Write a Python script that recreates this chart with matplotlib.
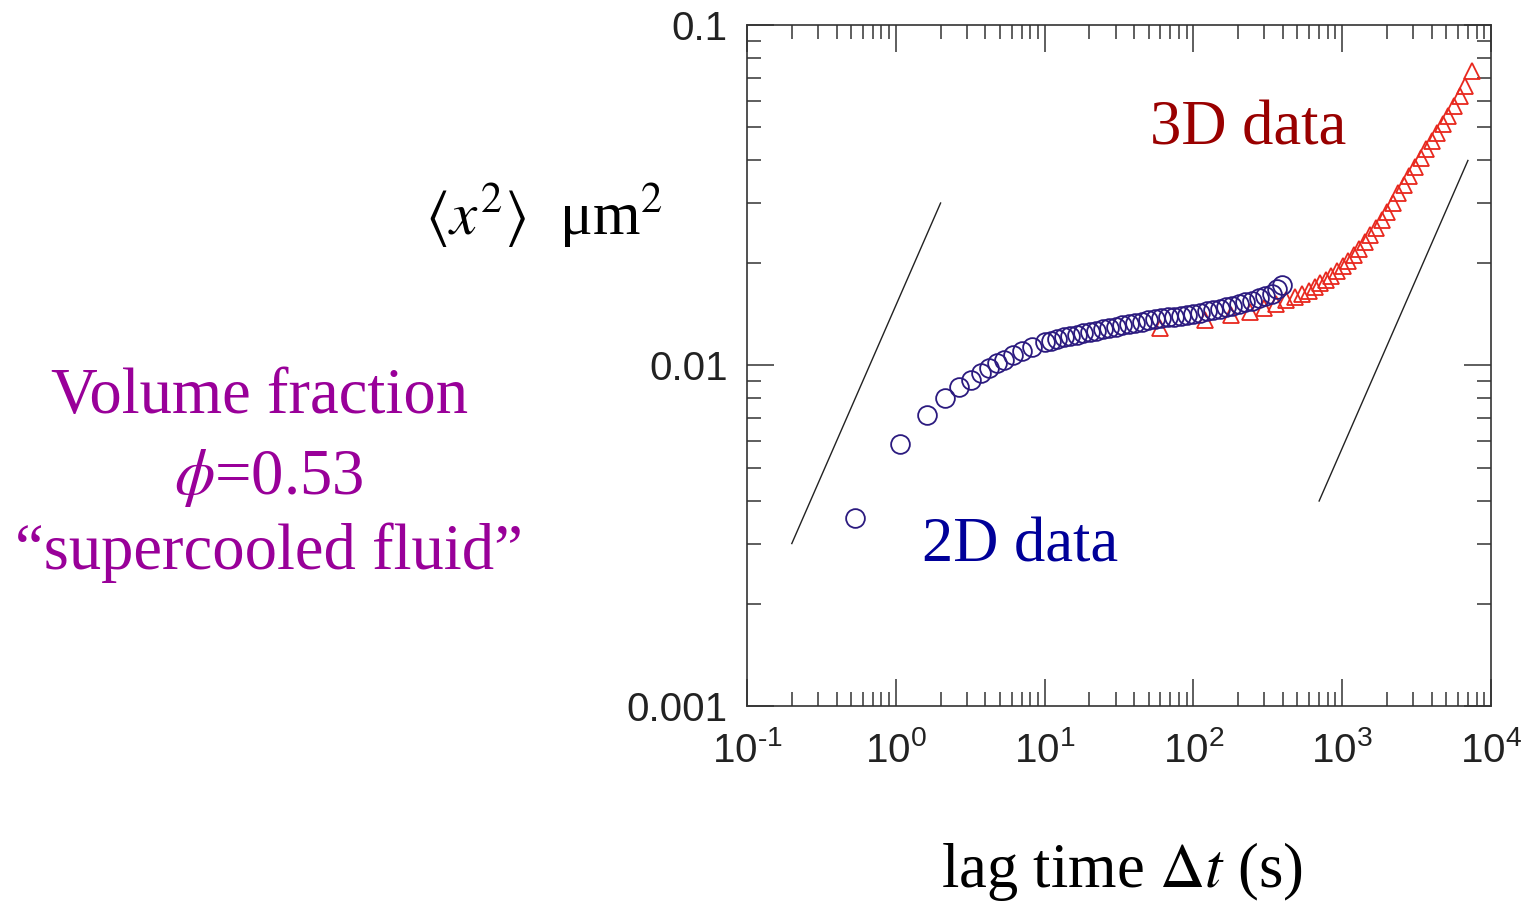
import numpy as np
import matplotlib
matplotlib.use("Agg")
import matplotlib.pyplot as plt
from matplotlib.ticker import LogLocator, FuncFormatter, NullFormatter

plt.rcParams['mathtext.fontset'] = 'stix'
plt.rcParams['axes.unicode_minus'] = False

# 2D data (circles): lag time (s), <x^2> (um^2)
t_2d = [0.53, 1.06, 1.61, 2.13, 2.65, 3.18, 3.71, 4.24, 4.77, 5.3, 6.1, 7.1, 8.2,
        10, 11.1, 12.2, 13.5, 14.9, 16.5, 18.2, 20.2, 22.3, 24.6, 27.2, 30.1, 33.3,
        36.8, 40.7, 45, 49.7, 55, 60.8, 67.2, 74.3, 82.1, 90.8, 100, 111, 123, 136,
        150, 166, 183, 203, 224, 248, 274, 303, 335, 365, 395]
msd_2d = [0.003565, 0.005884, 0.007156, 0.008027, 0.008647, 0.009066, 0.009506,
          0.009833, 0.01014, 0.01041, 0.01070, 0.01103, 0.01133,
          0.01172, 0.01184, 0.01200, 0.01211, 0.01222, 0.01233, 0.01243, 0.01254,
          0.01265, 0.01276, 0.01288, 0.01299, 0.01311, 0.01322, 0.01334, 0.01346,
          0.01357, 0.01370, 0.01380, 0.01386, 0.01392, 0.01399, 0.01408, 0.01417,
          0.01428, 0.01441, 0.01453, 0.01465, 0.01482, 0.01497, 0.01516, 0.01532,
          0.01550, 0.01573, 0.01600, 0.01627, 0.01672, 0.01723]

# 3D data (triangles)
t_3d = [60, 120, 180, 240, 300, 360, 420, 480, 540, 600, 654, 713, 777, 847, 923,
        1006, 1097, 1195, 1303, 1420, 1548, 1687, 1839, 2005, 2185, 2382, 2596,
        2830, 3084, 3362, 3665, 3994, 4354, 4746, 5173, 5638, 6146, 6699, 7450]
msd_3d = [0.01288, 0.01360, 0.01406, 0.01436, 0.01475, 0.01516, 0.01557, 0.01594,
          0.01627, 0.01660, 0.01700, 0.01741, 0.01785, 0.01834, 0.01890, 0.01957,
          0.02024, 0.02111, 0.02194, 0.02300, 0.02410, 0.02528, 0.02675, 0.02829,
          0.02998, 0.03201, 0.03389, 0.03600, 0.03834, 0.04079, 0.04312, 0.04566,
          0.04824, 0.05110, 0.05404, 0.05794, 0.06166, 0.06622, 0.0733]

# slope-1 guide lines
guide_left_x = [0.2, 2.0]
guide_left_y = [0.003, 0.03]
guide_right_x = [700, 7000]
guide_right_y = [0.004, 0.04]

fig = plt.figure(figsize=(15.27, 9.01), dpi=100)
ax = fig.add_axes([0.4892, 0.2164, 0.4872, 0.7559])

ax.plot(guide_left_x, guide_left_y, color='#222222', lw=1.0)
ax.plot(guide_right_x, guide_right_y, color='#222222', lw=1.0)

ax.plot(t_3d, msd_3d, ls='none', marker='^', ms=12, mfc='none',
        mec='#e8281e', mew=1.3)
ax.plot(t_2d, msd_2d, ls='none', marker='o', ms=13.5, mfc='none',
        mec='#2b1a7f', mew=1.3)

ax.set_xscale('log')
ax.set_yscale('log')
ax.set_xlim(0.1, 1e4)
ax.set_ylim(0.001, 0.1)


def etiqueta_x(v, p):
    # exponente con guion corto como en la figura original
    e = int(round(np.log10(v)))
    if e < 0:
        return r'$\mathregular{10^{\text{-}%d}}$' % (-e)
    return r'$\mathregular{10^{%d}}$' % e


ax.xaxis.set_major_locator(LogLocator(base=10, numticks=10))
ax.xaxis.set_minor_locator(LogLocator(base=10, subs=np.arange(2, 10), numticks=20))
ax.yaxis.set_major_locator(LogLocator(base=10, numticks=10))
ax.yaxis.set_minor_locator(LogLocator(base=10, subs=np.arange(2, 10), numticks=20))
ax.xaxis.set_major_formatter(FuncFormatter(etiqueta_x))
ax.yaxis.set_major_formatter(FuncFormatter(lambda v, p: {0.1: '0.1', 0.01: '0.01', 0.001: '0.001'}.get(round(v, 4), '')))
ax.xaxis.set_minor_formatter(NullFormatter())
ax.yaxis.set_minor_formatter(NullFormatter())

ax.tick_params(which='both', direction='in', top=True, right=True,
               color='#333333', width=1.1)
ax.tick_params(which='major', length=19.5)
ax.tick_params(which='minor', length=10)
ax.tick_params(axis='y', which='major', pad=14)
ax.tick_params(axis='x', which='major', pad=18)
for lab in ax.get_xticklabels() + ax.get_yticklabels():
    lab.set_fontfamily('Liberation Sans')
    lab.set_fontsize(29)
    lab.set_color('#222222')
for sp in ax.spines.values():
    sp.set_color('#333333')
    sp.set_linewidth(1.2)

serif = 'Liberation Serif'
ax.text(0.673, 0.846, '3D data', transform=ax.transAxes, fontsize=45,
        family=serif, color='#990000', ha='center', va='center')
ax.text(0.367, 0.234, '2D data', transform=ax.transAxes, fontsize=45,
        family=serif, color='#000099', ha='center', va='center')

fig.text(0.356, 0.760, r'$\langle x^2\rangle$  μm$^2$', fontsize=44, family=serif,
         color='black', ha='center', va='center')

purple = '#990099'
fig.text(0.170, 0.559, 'Volume fraction', fontsize=46.5, family=serif, color=purple,
         ha='center', va='center')
fig.text(0.176, 0.470, r'$\phi$=0.53', fontsize=46.5, family=serif, color=purple,
         ha='center', va='center')
fig.text(0.176, 0.387, '\u201csupercooled fluid\u201d', fontsize=46.5, family=serif,
         color=purple, ha='center', va='center')

fig.text(0.735, 0.033, r'lag time $\Delta t$ (s)', fontsize=45, family=serif,
         color='black', ha='center', va='center')

fig.savefig('out.png', dpi=100)
